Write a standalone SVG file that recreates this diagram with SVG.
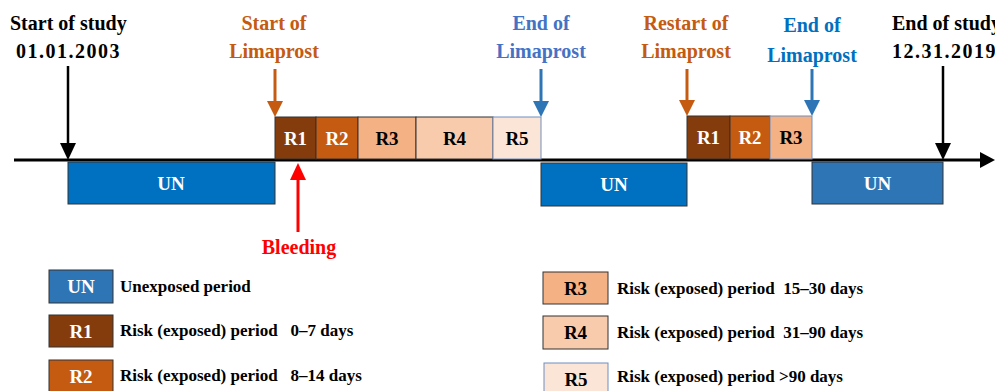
<svg xmlns="http://www.w3.org/2000/svg" width="995" height="391" viewBox="0 0 995 391">
<defs>
<style>
text{font-family:"Liberation Serif","DejaVu Serif",serif;font-weight:bold}
.h{font-size:20px}
.c{text-anchor:middle}
.bl{fill:#000}
.or{fill:#C55A11}
.bu{fill:#4472C4}
.bu2{fill:#0070C0}
.red{fill:#FF0000}
.lab{font-size:19px;text-anchor:middle}
.lg{font-size:17px}
.box{stroke:#333;stroke-width:1}
.r1{fill:#843C0C}.r2{fill:#C55A11}.r3{fill:#F4B183}.r4{fill:#F8CBAD}.r5{fill:#FBE5D6;stroke:#6F8FC0}
.un{fill:#0070C0}.un2{fill:#2E75B6}
.w{fill:#fff}
</style>
</defs>
<g id="connectors">
<line x1="14" y1="160" x2="982" y2="160" stroke="#000" stroke-width="3"/>
<path d="M980,152L995,160L980,168z" fill="#000"/>
<line x1="68" y1="66" x2="68" y2="146" stroke="#000" stroke-width="2.5"/>
<path d="M60,143L76,143L68,160z" fill="#000"/>
<line x1="943" y1="66" x2="943" y2="146" stroke="#000" stroke-width="2.5"/>
<path d="M935,143L951,143L943,160z" fill="#000"/>
<line x1="275" y1="69" x2="275" y2="103" stroke="#C55A11" stroke-width="3"/>
<path d="M267,101L283,101L275,117z" fill="#C55A11"/>
<line x1="687" y1="69" x2="687" y2="102" stroke="#C55A11" stroke-width="3"/>
<path d="M679,100L695,100L687,116z" fill="#C55A11"/>
<line x1="541" y1="69" x2="541" y2="103" stroke="#2E75B6" stroke-width="3"/>
<path d="M533,101L549,101L541,117z" fill="#2E75B6"/>
<line x1="812" y1="69" x2="812" y2="102" stroke="#2E75B6" stroke-width="3"/>
<path d="M804,100L820,100L812,116z" fill="#2E75B6"/>
<line x1="298" y1="232" x2="298" y2="178" stroke="#FF0000" stroke-width="3"/>
<path d="M290,180L306,180L298,163z" fill="#FF0000"/>
</g>
<g id="start-study">
<text class="h bl" x="10" y="30">Start of study</text>
<text class="h bl" x="16" y="58" letter-spacing="1.5">01.01.2003</text>
</g>
<g id="end-study">
<text class="h bl" x="892" y="30">End of study</text>
<text class="h bl" x="892" y="58" letter-spacing="1.5">12.31.2019</text>
</g>
<g id="start-limaprost">
<text class="h c or" x="274" y="30">Start of</text>
<text class="h c or" x="274" y="58">Limaprost</text>
</g>
<g id="end-limaprost-1">
<text class="h c bu" x="541" y="30">End of</text>
<text class="h c bu" x="541" y="58">Limaprost</text>
</g>
<g id="restart-limaprost">
<text class="h c or" x="686" y="30">Restart of</text>
<text class="h c or" x="686" y="58">Limaprost</text>
</g>
<g id="end-limaprost-2">
<text class="h c bu2" x="812" y="32">End of</text>
<text class="h c bu2" x="812" y="62">Limaprost</text>
</g>
<g id="bleeding">
<text class="h c red" x="299" y="254">Bleeding</text>
</g>
<g id="un1"><rect class="box un" x="68" y="162" width="207" height="42"/><text class="lab w" x="171" y="190">UN</text></g>
<g id="seg1-r1"><rect class="box r1" x="275" y="117" width="41" height="42"/><text class="lab w" x="295.5" y="145">R1</text></g>
<g id="seg1-r2"><rect class="box r2" x="316" y="117" width="42" height="42"/><text class="lab w" x="337" y="145">R2</text></g>
<g id="seg1-r3"><rect class="box r3" x="358" y="117" width="58" height="42"/><text class="lab bl" x="387" y="145">R3</text></g>
<g id="seg1-r4"><rect class="box r4" x="416" y="117" width="77" height="42"/><text class="lab bl" x="454.5" y="145">R4</text></g>
<g id="seg1-r5"><rect class="box r5" x="493" y="117" width="48" height="42"/><text class="lab bl" x="517" y="145">R5</text></g>
<g id="un2"><rect class="box un" x="541" y="163" width="146" height="43"/><text class="lab w" x="614" y="191">UN</text></g>
<g id="seg2-r1"><rect class="box r1" x="687" y="116" width="43" height="43"/><text class="lab w" x="708.5" y="144">R1</text></g>
<g id="seg2-r2"><rect class="box r2" x="730" y="116" width="40" height="43"/><text class="lab w" x="750" y="144">R2</text></g>
<g id="seg2-r3"><rect class="box r3" x="770" y="116" width="42" height="43" style="stroke:#6F8FC0"/><text class="lab bl" x="791" y="144">R3</text></g>
<g id="un3"><rect class="box un2" x="812" y="162" width="131" height="42"/><text class="lab w" x="877.5" y="190">UN</text></g>
<g id="legend-un"><rect class="box un2" x="49" y="270" width="64" height="33"/><text class="lab w" x="81" y="293">UN</text><text class="lg bl" x="120" y="292">Unexposed period</text></g>
<g id="legend-r1"><rect class="box r1" x="49" y="315" width="64" height="32"/><text class="lab w" x="81" y="338">R1</text><text class="lg bl" x="120" y="336" xml:space="preserve">Risk (exposed) period   0–7 days</text></g>
<g id="legend-r2"><rect class="box r2" x="49" y="360" width="64" height="33"/><text class="lab w" x="81" y="383">R2</text><text class="lg bl" x="120" y="381" xml:space="preserve">Risk (exposed) period   8–14 days</text></g>
<g id="legend-r3"><rect class="box r3" x="543" y="272" width="65" height="32"/><text class="lab bl" x="575.5" y="295">R3</text><text class="lg bl" x="617" y="294" xml:space="preserve">Risk (exposed) period  15–30 days</text></g>
<g id="legend-r4"><rect class="box r4" x="543" y="316" width="65" height="33"/><text class="lab bl" x="575.5" y="339">R4</text><text class="lg bl" x="617" y="338" xml:space="preserve">Risk (exposed) period  31–90 days</text></g>
<g id="legend-r5"><rect class="box r5" x="544" y="363" width="64" height="32"/><text class="lab bl" x="576" y="386">R5</text><text class="lg bl" x="617" y="382">Risk (exposed) period &gt;90 days</text></g>
</svg>
